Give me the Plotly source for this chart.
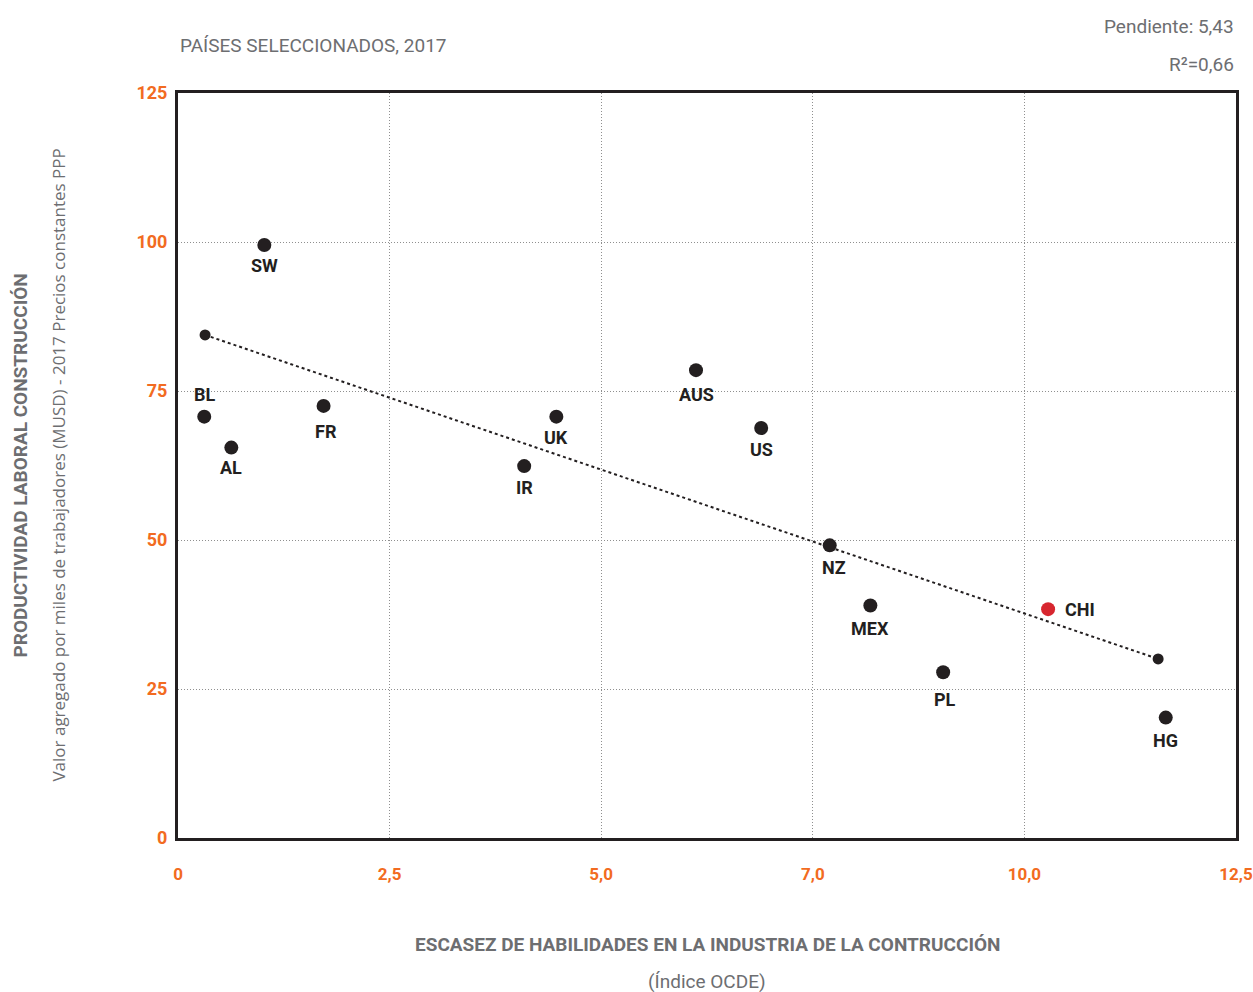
import plotly.graph_objects as go

# Data
paises = ["SW", "BL", "AL", "FR", "IR", "UK", "AUS", "US", "NZ", "MEX", "PL", "CHI", "HG"]
escasez = [1.02, 0.31, 0.63, 1.72, 4.09, 4.47, 6.12, 6.89, 7.70, 8.18, 9.04, 10.28, 11.67]
productividad = [99.5, 70.7, 65.5, 72.5, 62.4, 70.7, 78.5, 68.8, 49.1, 39.0, 27.8, 38.4, 20.2]
tendencia_x = [0.32, 11.58]
tendencia_y = [84.4, 30.05]

x_ticks = [0, 2.5, 5.0, 7.5, 10.0, 12.5]
x_tick_labels = ["0", "2,5", "5,0", "7,0", "10,0", "12,5"]
y_ticks = [0, 25, 50, 75, 100, 125]
y_tick_labels = ["0", "25", "50", "75", "100", "125"]

# label placement (layout only): pixel shifts relative to each point
label_dx = [0, 0, 0, 2, 0, 0, 0, 0, 4, 0, 2, 15, 0]
label_dy = [-21, 22, -20, -26, -21, -21, -24, -22, -22, -23, -27, 0, -23]

ORANGE = "#f26b21"
GRAY = "#6d6e71"
DARK = "#231f20"
RED = "#d7262f"
COND = "Liberation Sans Narrow, Roboto, Arial, sans-serif"
REG = "Open Sans, Roboto, sans-serif"

colors = [RED if p == "CHI" else DARK for p in paises]

fig = go.Figure()
fig.add_trace(go.Scatter(
    x=tendencia_x, y=tendencia_y, mode="lines+markers",
    line=dict(color=DARK, width=2, dash="dot"),
    marker=dict(size=11, color=DARK),
    hoverinfo="skip", showlegend=False,
))
fig.add_trace(go.Scatter(
    x=escasez, y=productividad, mode="markers", text=paises,
    marker=dict(size=14, color=colors),
    showlegend=False,
))

for p, xv, yv, dx, dy in zip(paises, escasez, productividad, label_dx, label_dy):
    fig.add_annotation(
        x=xv, y=yv, xref="x", yref="y", text="<b>%s</b>" % p, showarrow=False,
        xanchor="left" if dx > 8 else "center", yanchor="middle",
        xshift=dx, yshift=dy,
        font=dict(family=COND, size=18, color=DARK),
    )

fig.update_layout(
    width=1253, height=992, autosize=False,
    margin=dict(l=178, r=17, t=93, b=154, autoexpand=False),
    paper_bgcolor="white", plot_bgcolor="white",
    xaxis=dict(
        range=[0, 12.5], tickvals=x_ticks, ticktext=["<b>%s</b>" % t for t in x_tick_labels],
        tickfont=dict(family=COND, size=17, color=ORANGE),
        showgrid=True, gridcolor="#8f8f8f", griddash="1px,2px", gridwidth=1,
        showline=True, linecolor=DARK, linewidth=3, mirror=True, automargin=False,
        zeroline=False, ticks="", ticklabelstandoff=19, ticklabeloverflow="allow",
    ),
    yaxis=dict(
        range=[0, 125], tickvals=y_ticks, ticktext=["<b>%s</b>" % t for t in y_tick_labels],
        tickfont=dict(family=COND, size=18, color=ORANGE),
        showgrid=True, gridcolor="#8f8f8f", griddash="1px,2px", gridwidth=1,
        showline=True, linecolor=DARK, linewidth=3, mirror=True, automargin=False,
        zeroline=False, ticks="", ticklabelstandoff=4, ticklabeloverflow="allow",
    ),
)

ann = [
    dict(text="PAÍSES SELECCIONADOS, 2017", x=0, y=1.0644, xanchor="left", yanchor="middle",
         font=dict(family=COND, size=19, color=GRAY)),
    dict(text="Pendiente: 5,43", x=1, y=1.0886, xanchor="right", yanchor="middle",
         font=dict(family=COND, size=19, color=GRAY)),
    dict(text="R²=0,66", x=1, y=1.0389, xanchor="right", yanchor="middle",
         font=dict(family=COND, size=19, color=GRAY)),
    dict(text="<b>ESCASEZ DE HABILIDADES EN LA INDUSTRIA DE LA CONTRUCCIÓN</b>", x=0.5, y=-0.1423,
         xanchor="center", yanchor="middle", font=dict(family=COND, size=19, color=GRAY)),
    dict(text="(Índice OCDE)", x=0.5, y=-0.192, xanchor="center", yanchor="middle",
         font=dict(family=COND, size=19, color=GRAY)),
    dict(text="<b>PRODUCTIVIDAD LABORAL CONSTRUCCIÓN</b>", x=-0.1493, y=0.5, textangle=-90,
         xanchor="center", yanchor="middle", font=dict(family=COND, size=19, color=GRAY)),
    dict(text="Valor agregado por miles de trabajadores (MUSD) - 2017 Precios constantes PPP",
         x=-0.1134, y=0.5, textangle=-90, xanchor="center", yanchor="middle",
         font=dict(family=REG, size=17, color=GRAY)),
]
for a in ann:
    a.update(xref="paper", yref="paper", showarrow=False)
    fig.add_annotation(**a)

fig.write_html(
    "out.html",
    config={"responsive": False, "displayModeBar": False},
    post_script=(
        "document.body.style.margin='0';"
        "document.body.style.overflow='hidden';"
        "document.documentElement.style.overflow='hidden';"
    ),
)
